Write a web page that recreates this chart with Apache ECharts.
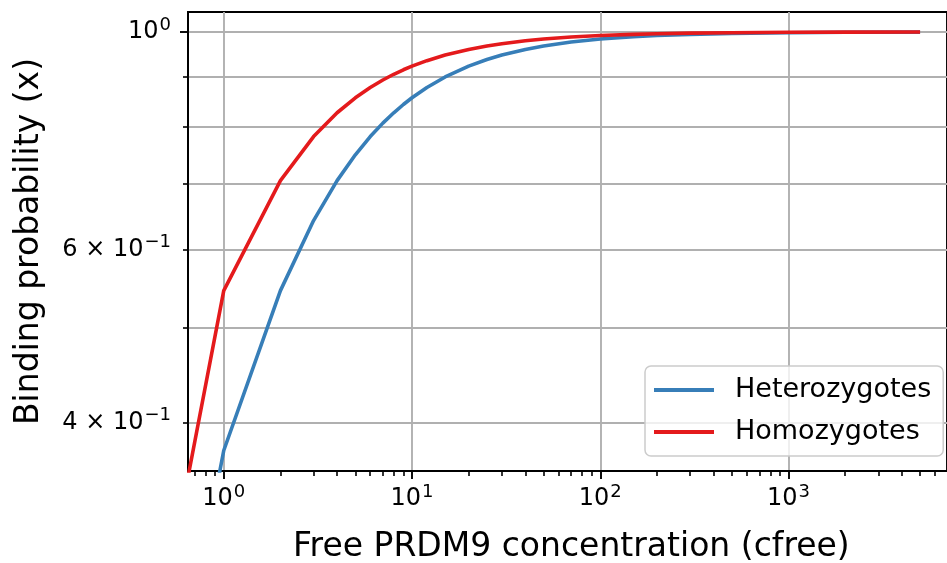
<!DOCTYPE html>
<html>
<head>
<meta charset="utf-8">
<title>Binding probability</title>
<script src="https://cdn.jsdelivr.net/npm/echarts@6/dist/echarts.min.js"></script>
<style>
  html, body { margin: 0; padding: 0; background: #fff; }
  #chart { width: 947px; height: 563px; }
</style>
</head>
<body>
<div id="chart"></div>
<script>
// free PRDM9 concentration (x) and binding probability
const concentration = [1, 2, 3, 4, 5, 6, 7, 8, 9, 10, 12, 15, 20, 25, 30, 40, 50, 70, 100, 150, 200, 300, 500, 1000, 2000, 5000];
const heterozygotes = [0.3745, 0.545, 0.6424, 0.7055, 0.7496, 0.7823, 0.8074, 0.8273, 0.8435, 0.8569, 0.8778, 0.8998, 0.9229, 0.9374, 0.9473, 0.9599, 0.9677, 0.9767, 0.9836, 0.989, 0.9917, 0.9945, 0.9967, 0.9983, 0.9992, 0.9997];
const homozygotes = [0.545, 0.7055, 0.7823, 0.8273, 0.8569, 0.8778, 0.8934, 0.9055, 0.9151, 0.9229, 0.9349, 0.9473, 0.9599, 0.9677, 0.9729, 0.9796, 0.9836, 0.9882, 0.9917, 0.9945, 0.9958, 0.9972, 0.9983, 0.9992, 0.9996, 0.9998];
// where the curves leave the plot at the lower left
const heteroEdge = [0.9, 0.337];
const homoEdge = [0.6, 0.327];

const xMajorTicks = [1, 10, 100, 1000];
const xMinorTicks = [0.7, 0.8, 0.9, 2, 3, 4, 5, 6, 7, 8, 9, 20, 30, 40, 50, 60, 70, 80, 90,
  200, 300, 400, 500, 600, 700, 800, 900, 2000, 3000, 4000, 5000, 6000];
const xTickLabels = ['{m|10}{s|0}', '{m|10}{s|1}', '{m|10}{s|2}', '{m|10}{s|3}'];
const yMajorTicks = [1];
const yMinorTicks = [0.4, 0.5, 0.6, 0.7, 0.8, 0.9];
const yLabelValues = [0.4, 0.6, 1];
const yTickLabels = ['{m|4 × 10}{s|−1}', '{m|6 × 10}{s|−1}', '{m|10}{s|0}'];

const X_MIN = 0.6457, X_MAX = 6950;
const Y_MIN = 0.3569, Y_MAX = 1.048;
const FONT = 'DejaVu Sans';
const gridBox = { left: 188, right: -5, top: 12, bottom: 92 };

// mantissa + raised exponent, like matplotlib's 10^n labels
const powerRich = {
  m: { fontFamily: FONT, fontSize: 24, lineHeight: 24, verticalAlign: 'bottom', color: '#000' },
  s: { fontFamily: FONT, fontSize: 18, lineHeight: 19, verticalAlign: 'bottom', padding: [0, 0, 10, 1], color: '#000' },
};

function pick(values, labels) {
  return (v) => {
    const i = values.findIndex((t) => Math.abs(t - v) < 1e-6 * t);
    return i >= 0 ? labels[i] : '';
  };
}

const chart = echarts.init(document.getElementById('chart'), null, { renderer: 'canvas' });

const option = {
  animation: false,
  // x axis title as its own text so the grid is not squeezed to fit it
  title: {
    text: 'Free PRDM9 concentration (cfree)',
    left: 293, top: 529, padding: 0,
    textStyle: { fontFamily: FONT, fontSize: 33, fontWeight: 'normal', lineHeight: 36, color: '#000' },
  },
  grid: [
    Object.assign({ show: true, borderColor: '#000', borderWidth: 1.9, backgroundColor: 'transparent' }, gridBox),
    Object.assign({ show: false }, gridBox),
  ],
  xAxis: [
    {
      type: 'log', gridIndex: 0, min: X_MIN, max: X_MAX,
      axisLine: { lineStyle: { color: '#000', width: 1.9 } },
      axisTick: { customValues: xMajorTicks, length: 8, lineStyle: { color: '#000', width: 1.9 } },
      axisLabel: {
        customValues: xMajorTicks, formatter: pick(xMajorTicks, xTickLabels), margin: 16,
        rich: powerRich,
      },
      splitLine: { show: true, lineStyle: { color: '#b0b0b0', width: 1.9 } },
    },
    {
      // minor ticks only
      type: 'log', gridIndex: 1, min: X_MIN, max: X_MAX,
      axisLine: { show: false },
      axisTick: { customValues: xMinorTicks, length: 5, lineStyle: { color: '#000', width: 1.6 } },
      axisLabel: { show: false },
      splitLine: { show: false },
    },
  ],
  yAxis: [
    {
      type: 'log', gridIndex: 0, min: Y_MIN, max: Y_MAX,
      name: 'Binding probability (x)', nameLocation: 'middle', nameGap: 142,
      nameTextStyle: { fontFamily: FONT, fontSize: 33, color: '#000' },
      axisLine: { show: true, lineStyle: { color: '#000', width: 1.9 } },
      axisTick: { show: true, customValues: yMajorTicks, length: 8, lineStyle: { color: '#000', width: 1.9 } },
      axisLabel: {
        customValues: yLabelValues, formatter: pick(yLabelValues, yTickLabels), margin: 17,
        rich: powerRich,
      },
      splitLine: { show: true, lineStyle: { color: '#b0b0b0', width: 1.9 } },
    },
    {
      type: 'log', gridIndex: 1, min: Y_MIN, max: Y_MAX,
      axisLine: { show: false },
      axisTick: { show: true, customValues: yMinorTicks, length: 5, lineStyle: { color: '#000', width: 1.6 } },
      axisLabel: { show: false },
      splitLine: { show: true, lineStyle: { color: '#b0b0b0', width: 1.9 } },
    },
  ],
  legend: {
    orient: 'vertical', left: 645, top: 366,
    padding: [9, 12, 9, 9], itemGap: 12, itemWidth: 60, itemHeight: 4, icon: 'rect',
    backgroundColor: 'rgba(255,255,255,0.8)', borderColor: '#cccccc', borderWidth: 1.5, borderRadius: 6,
    textStyle: { fontFamily: FONT, fontSize: 27, lineHeight: 30, color: '#000', padding: [0, 0, 0, 16] },
    data: ['Heterozygotes', 'Homozygotes'],
  },
  series: [
    {
      name: 'Heterozygotes', type: 'line', xAxisIndex: 0, yAxisIndex: 0,
      symbol: 'none', color: '#377eb8', lineStyle: { width: 3.6 }, z: 3,
      data: [heteroEdge].concat(concentration.map((c, i) => [c, heterozygotes[i]])),
    },
    {
      name: 'Homozygotes', type: 'line', xAxisIndex: 0, yAxisIndex: 0,
      symbol: 'none', color: '#e41a1c', lineStyle: { width: 3.6 }, z: 4,
      data: [homoEdge].concat(concentration.map((c, i) => [c, homozygotes[i]])),
    },
  ],
};

chart.setOption(option);
</script>
</body>
</html>
